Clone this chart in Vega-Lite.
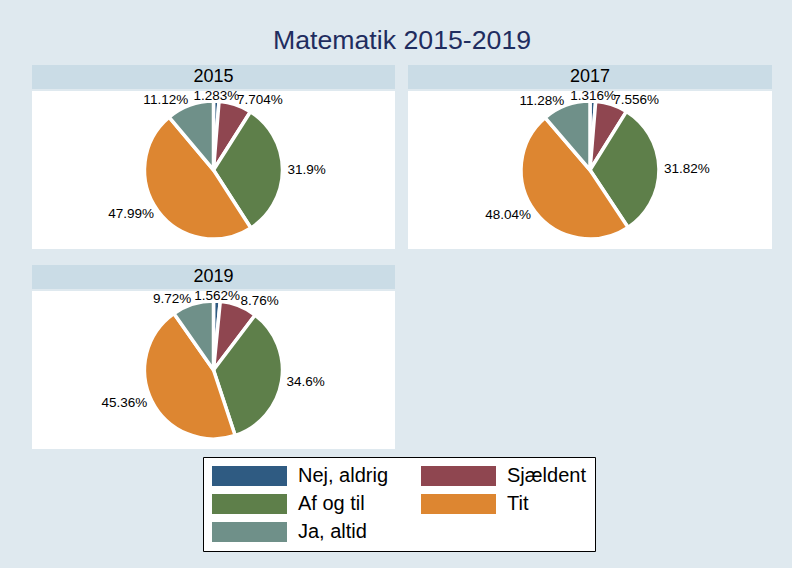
{
  "$schema": "https://vega.github.io/schema/vega-lite/v6.json",
  "background": "#dfe9ef",
  "padding": {"left": 32, "top": 28, "right": 22, "bottom": 18},
  "title": {"text": "Matematik 2015-2019", "fontSize": 26.7, "font": "Liberation Sans", "fontWeight": "normal", "color": "#1f2d5f", "anchor": "middle", "offset": 10},
  "datasets": {
    "shares": [
      {"year": "2015", "cat": "Nej, aldrig", "k": 1, "share": 0.01283},
      {"year": "2015", "cat": "Sjældent", "k": 2, "share": 0.07704},
      {"year": "2015", "cat": "Af og til", "k": 3, "share": 0.319},
      {"year": "2015", "cat": "Tit", "k": 4, "share": 0.4799},
      {"year": "2015", "cat": "Ja, altid", "k": 5, "share": 0.1112},
      {"year": "2017", "cat": "Nej, aldrig", "k": 1, "share": 0.01316},
      {"year": "2017", "cat": "Sjældent", "k": 2, "share": 0.07556},
      {"year": "2017", "cat": "Af og til", "k": 3, "share": 0.3182},
      {"year": "2017", "cat": "Tit", "k": 4, "share": 0.4804},
      {"year": "2017", "cat": "Ja, altid", "k": 5, "share": 0.1128},
      {"year": "2019", "cat": "Nej, aldrig", "k": 1, "share": 0.01562},
      {"year": "2019", "cat": "Sjældent", "k": 2, "share": 0.0876},
      {"year": "2019", "cat": "Af og til", "k": 3, "share": 0.346},
      {"year": "2019", "cat": "Tit", "k": 4, "share": 0.4536},
      {"year": "2019", "cat": "Ja, altid", "k": 5, "share": 0.0972}
    ]
  },
  "data": {"name": "shares"},
  "spacing": 16,
  "vconcat": [
    {
      "spacing": 13,
      "hconcat": [
        {
          "spacing": 0,
          "vconcat": [
            {
              "width": 363, "height": 24,
              "view": {"fill": "#cadce6", "stroke": null},
              "transform": [{"filter": "datum.year == '2015'"}, {"aggregate": [{"op": "count", "as": "n"}], "groupby": ["year"]}],
              "mark": {"type": "text", "fontSize": 18, "font": "Liberation Sans", "color": "black"},
              "encoding": {"text": {"field": "year"}}
            },
            {
              "width": 363, "height": 158,
              "view": {"fill": "white", "stroke": null},
              "transform": [{"filter": "datum.year == '2015'"}],
              "encoding": {
                "theta": {"field": "share", "type": "quantitative", "stack": true},
                "order": {"field": "k", "type": "quantitative"}
              },
              "layer": [
                {
                  "mark": {"type": "arc", "outerRadius": 69, "stroke": "white", "strokeWidth": 3.5},
                  "encoding": {"color": {"field": "cat", "type": "nominal", "scale": {"domain": ["Nej, aldrig", "Sjældent", "Af og til", "Tit", "Ja, altid"], "range": ["#2f5b82", "#8f4650", "#5e7f4a", "#dd8631", "#6f9089"]}}}
                },
                {
                  "mark": {"type": "text", "radius": 74, "fontSize": 13.5, "font": "Liberation Sans", "color": "black", "baseline": "middle",
                    "align": {"expr": "((datum.share_start + datum.share_end) / 2 < 0.03 || (datum.share_start + datum.share_end) / 2 > 0.97) ? 'center' : ((datum.share_start + datum.share_end) / 2 < 0.5 ? 'left' : 'right')"}},
                  "encoding": {"text": {"field": "share", "type": "quantitative", "format": ".4~%"}}
                }
              ]
            }
          ]
        },
        {
          "spacing": 0,
          "vconcat": [
            {
              "width": 364, "height": 24,
              "view": {"fill": "#cadce6", "stroke": null},
              "transform": [{"filter": "datum.year == '2017'"}, {"aggregate": [{"op": "count", "as": "n"}], "groupby": ["year"]}],
              "mark": {"type": "text", "fontSize": 18, "font": "Liberation Sans", "color": "black"},
              "encoding": {"text": {"field": "year"}}
            },
            {
              "width": 364, "height": 158,
              "view": {"fill": "white", "stroke": null},
              "transform": [{"filter": "datum.year == '2017'"}],
              "encoding": {
                "theta": {"field": "share", "type": "quantitative", "stack": true},
                "order": {"field": "k", "type": "quantitative"}
              },
              "layer": [
                {
                  "mark": {"type": "arc", "outerRadius": 69, "stroke": "white", "strokeWidth": 3.5},
                  "encoding": {"color": {"field": "cat", "type": "nominal", "scale": {"domain": ["Nej, aldrig", "Sjældent", "Af og til", "Tit", "Ja, altid"], "range": ["#2f5b82", "#8f4650", "#5e7f4a", "#dd8631", "#6f9089"]}}}
                },
                {
                  "mark": {"type": "text", "radius": 74, "fontSize": 13.5, "font": "Liberation Sans", "color": "black", "baseline": "middle",
                    "align": {"expr": "((datum.share_start + datum.share_end) / 2 < 0.03 || (datum.share_start + datum.share_end) / 2 > 0.97) ? 'center' : ((datum.share_start + datum.share_end) / 2 < 0.5 ? 'left' : 'right')"}},
                  "encoding": {"text": {"field": "share", "type": "quantitative", "format": ".4~%"}}
                }
              ]
            }
          ]
        }
      ]
    },
    {
      "spacing": 0,
      "vconcat": [
        {
          "width": 363, "height": 24,
          "view": {"fill": "#cadce6", "stroke": null},
          "transform": [{"filter": "datum.year == '2019'"}, {"aggregate": [{"op": "count", "as": "n"}], "groupby": ["year"]}],
          "mark": {"type": "text", "fontSize": 18, "font": "Liberation Sans", "color": "black"},
          "encoding": {"text": {"field": "year"}}
        },
        {
          "width": 363, "height": 158,
          "view": {"fill": "white", "stroke": null},
          "transform": [{"filter": "datum.year == '2019'"}],
          "encoding": {
            "theta": {"field": "share", "type": "quantitative", "stack": true},
            "order": {"field": "k", "type": "quantitative"}
          },
          "layer": [
            {
              "mark": {"type": "arc", "outerRadius": 69, "stroke": "white", "strokeWidth": 3.5},
              "encoding": {"color": {"field": "cat", "type": "nominal", "scale": {"domain": ["Nej, aldrig", "Sjældent", "Af og til", "Tit", "Ja, altid"], "range": ["#2f5b82", "#8f4650", "#5e7f4a", "#dd8631", "#6f9089"]}}}
            },
            {
              "mark": {"type": "text", "radius": 74, "fontSize": 13.5, "font": "Liberation Sans", "color": "black", "baseline": "middle",
                "align": {"expr": "((datum.share_start + datum.share_end) / 2 < 0.03 || (datum.share_start + datum.share_end) / 2 > 0.97) ? 'center' : ((datum.share_start + datum.share_end) / 2 < 0.5 ? 'left' : 'right')"}},
              "encoding": {"text": {"field": "share", "type": "quantitative", "format": ".4~%"}}
            }
          ]
        }
      ]
    }
  ],
  "resolve": {"scale": {"theta": "independent"}},
  "config": {
    "font": "Liberation Sans",
    "view": {"stroke": null},
    "legend": {
      "orient": "none", "legendX": 171, "legendY": 392,
      "direction": "horizontal", "columns": 2, "title": null,
      "symbolType": "M-1,-1H6.5V1H-1Z", "symbolSize": 400,
      "symbolStrokeWidth": 0, "symbolOpacity": 1,
      "labelFontSize": 20, "labelFont": "Liberation Sans", "labelColor": "black",
      "labelOffset": 66, "columnPadding": 32, "rowPadding": 8, "padding": 9,
      "strokeColor": "black", "fillColor": "white", "labelLimit": 300
    }
  }
}
